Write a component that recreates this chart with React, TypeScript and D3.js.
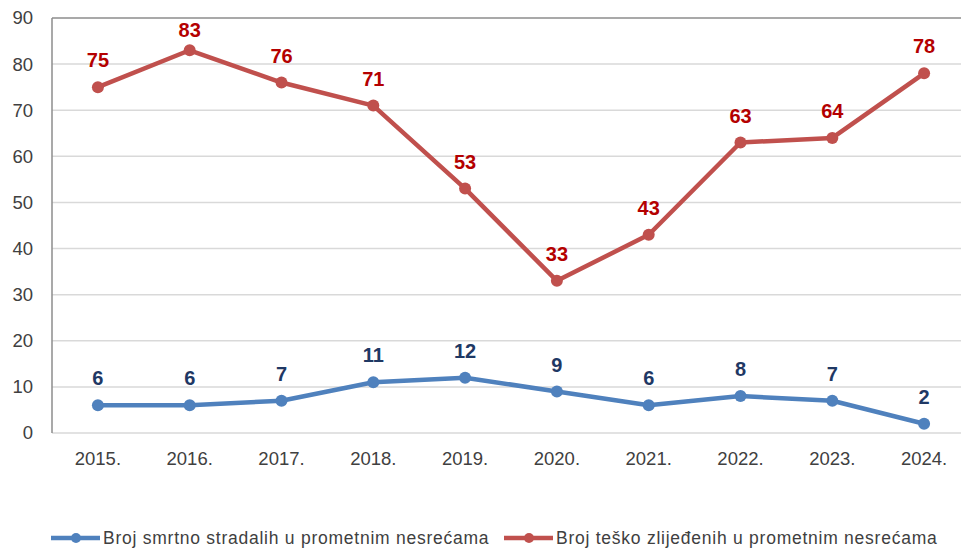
import React from "react";
import * as d3 from "d3";

const years = ["2015.", "2016.", "2017.", "2018.", "2019.", "2020.", "2021.", "2022.", "2023.", "2024."];
const fatalities = [6, 6, 7, 11, 12, 9, 6, 8, 7, 2];
const seriouslyInjured = [75, 83, 76, 71, 53, 33, 43, 63, 64, 78];
const yTicks = [0, 10, 20, 30, 40, 50, 60, 70, 80, 90];
const seriesNames = ["Broj smrtno stradalih u prometnim nesrećama", "Broj teško zlijeđenih u prometnim nesrećama"];

const W = 961;
const H = 548;
const left = 52;
const right = 970;
const top = 18;
const bottom = 433;

const FONT = "'Liberation Sans', Arial, sans-serif";

export default function App() {
  const x = d3.scalePoint<string>().domain(years).range([left, right]).padding(0.5);
  const y = d3.scaleLinear().domain([0, 90]).range([bottom, top]);
  const line = d3
    .line<number>()
    .x((_, i) => x(years[i]) as number)
    .y((d) => y(d));

  const series = [
    { name: seriesNames[0], values: fatalities, stroke: "#4F81BD", label: "#1F3864" },
    { name: seriesNames[1], values: seriouslyInjured, stroke: "#C0504D", label: "#B40000" },
  ];

  const legendItems = [
    { x0: 51, text: seriesNames[0], color: "#4F81BD" },
    { x0: 504, text: seriesNames[1], color: "#C0504D" },
  ];
  const legendY = 538;

  return (
    <svg width={W} height={H} style={{ position: "absolute", left: 0, top: 0, background: "#fff" }} fontFamily={FONT}>
      {yTicks.map((t) => (
        <g key={t}>
          <line
            x1={left}
            x2={W}
            y1={y(t)}
            y2={y(t)}
            stroke={t === 90 ? "#8c8c8c" : "#d9d9d9"}
            strokeWidth={1.5}
          />
          <text x={33} y={y(t)} dy="0.35em" textAnchor="end" fontSize={18.5} fill="#404040">
            {t}
          </text>
        </g>
      ))}
      <line x1={left} x2={left} y1={top} y2={bottom} stroke="#8c8c8c" strokeWidth={1.5} />
      {years.map((yr) => (
        <text key={yr} x={x(yr)} y={465} textAnchor="middle" fontSize={18.5} fill="#404040">
          {yr}
        </text>
      ))}
      {series.map((s) => (
        <g key={s.name}>
          <path d={line(s.values) || ""} fill="none" stroke={s.stroke} strokeWidth={4.5} strokeLinejoin="round" />
          {s.values.map((v, i) => (
            <circle key={i} cx={x(years[i])} cy={y(v)} r={6} fill={s.stroke} />
          ))}
          {s.values.map((v, i) => (
            <text
              key={"l" + i}
              x={x(years[i])}
              y={Math.max(y(v) - 20, top + 19)}
              textAnchor="middle"
              fontSize={20}
              fontWeight="bold"
              fill={s.label}
            >
              {v}
            </text>
          ))}
        </g>
      ))}
      {legendItems.map((l) => (
        <g key={l.text}>
          <line x1={l.x0} x2={l.x0 + 49} y1={legendY} y2={legendY} stroke={l.color} strokeWidth={4.5} />
          <circle cx={l.x0 + 25} cy={legendY} r={5} fill={l.color} />
          <text x={l.x0 + 52} y={legendY} dy="0.35em" fontSize={17.5} letterSpacing={0.75} fill="#404040">
            {l.text}
          </text>
        </g>
      ))}
    </svg>
  );
}
